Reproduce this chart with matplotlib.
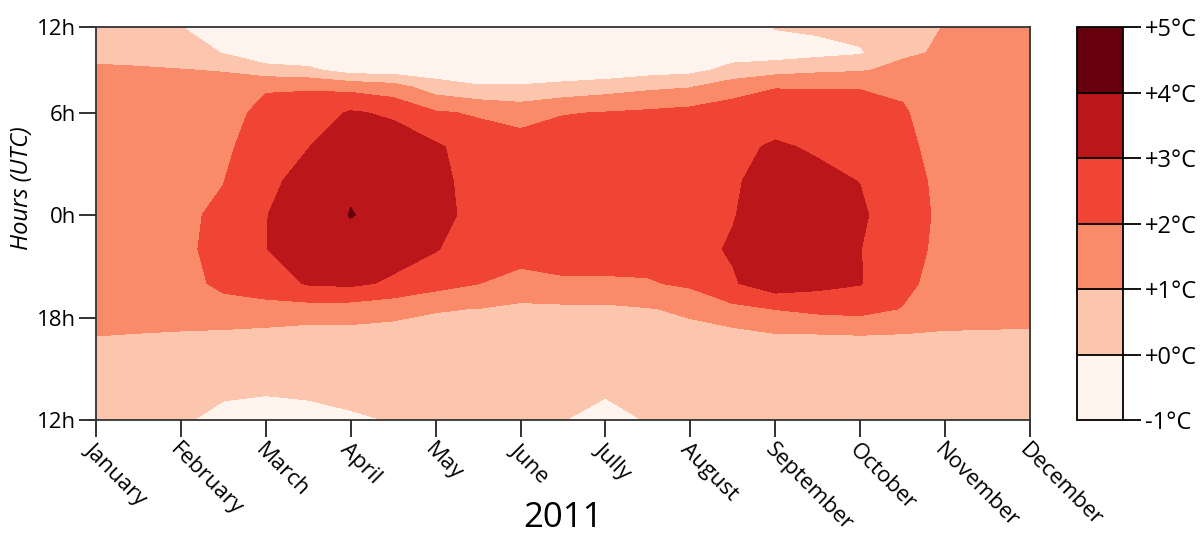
import numpy as np
import matplotlib.pyplot as plt

plt.rcParams['font.family'] = 'Open Sans'

# grid: half-month columns (Jan=0 ... Dec=11), hour rows measured up from the bottom 12h
month_pos = np.arange(0, 11.5, 0.5)
hour_pos = [0, 1.5, 3, 5, 6.5, 8, 10, 12, 14, 16, 18, 19.5, 20.5, 21.5, 23.0]

month_labels = ['January', 'February', 'March', 'April', 'May', 'June',
                'Jully', 'August', 'September', 'October', 'November', 'December']
hour_ticks = [0, 6, 12, 18, 23.0]
hour_labels = ['12h', '18h', '0h', '6h', '12h']

levels = [-1, 0, 1, 2, 3, 4, 5]
cbar_labels = ['-1°C', '+0°C', '+1°C', '+2°C', '+3°C', '+4°C', '+5°C']
band_colors = ['#fff3ed', '#fcc5ae', '#f98a6a', '#f04534', '#bb1619', '#67000d']

# temperature anomaly (°C), one profile per half-month column, bottom -> top
anomaly_cols = [
    [0.4, 0.58, 0.76, 1.01, 1.16, 1.33, 1.54, 1.75, 1.68, 1.55, 1.35, 1.2, 1.05, 0.9, 0.6],
    [0.4, 0.57, 0.75, 0.99, 1.17, 1.35, 1.58, 1.8, 1.75, 1.6, 1.38, 1.18, 1.04, 0.85, 0.5],
    [0.15, 0.45, 0.68, 0.95, 1.3, 1.6, 1.8, 1.85, 1.85, 1.72, 1.45, 1.2, 1.02, 0.6, 0.02],
    [-0.35, 0.12, 0.45, 0.85, 1.6, 2.25, 2.3, 2.15, 1.98, 1.8, 1.6, 1.3, 0.95, -0.05, -0.5],
    [-0.4, 0.02, 0.4, 0.7, 1.75, 2.4, 2.98, 2.97, 2.8, 2.55, 2.3, 1.9, 0.4, -0.74, -0.9],
    [-0.35, 0.1, 0.45, 0.6, 1.6, 3.1, 3.4, 3.55, 3.3, 2.98, 2.5, 1.9, 0.2, -0.8, -0.9],
    [-0.15, 0.25, 0.5, 0.65, 1.55, 3.2, 3.7, 4.03, 3.9, 3.5, 3.1, 1.7, -0.5, -0.8, -0.85],
    [0.05, 0.3, 0.55, 0.6, 1.35, 2.85, 3.4, 3.75, 3.7, 3.5, 2.85, 1.4, -0.5, -0.8, -0.85],
    [0.1, 0.35, 0.55, 0.7, 1.05, 2.4, 3.05, 3.3, 3.25, 3.15, 2.1, 0.5, -0.6, -0.85, -0.85],
    [0.2, 0.4, 0.55, 0.7, 0.98, 2.02, 2.5, 2.7, 2.65, 2.5, 1.9, 0.1, -0.7, -0.85, -0.85],
    [0.2, 0.4, 0.55, 0.7, 0.8, 1.6, 2.5, 2.6, 2.55, 2.45, 1.6, 0.1, -0.7, -0.85, -0.85],
    [0.02, 0.3, 0.5, 0.65, 0.8, 1.85, 2.5, 2.7, 2.65, 2.5, 1.95, 0.3, -0.7, -0.85, -0.85],
    [-0.3, 0.05, 0.4, 0.6, 0.8, 1.85, 2.5, 2.7, 2.65, 2.5, 2.03, 0.55, -0.7, -0.85, -0.85],
    [0.05, 0.3, 0.5, 0.7, 0.95, 1.9, 2.5, 2.7, 2.7, 2.55, 2.15, 0.8, -0.45, -0.85, -0.85],
    [0.15, 0.35, 0.55, 0.75, 1.15, 2.2, 2.7, 2.85, 2.8, 2.65, 2.3, 0.95, -0.3, -0.8, -0.85],
    [0.3, 0.45, 0.6, 0.7, 1.75, 2.9, 3.1, 2.95, 2.9, 2.8, 2.5, 1.55, 0.3, -0.45, -0.8],
    [0.25, 0.45, 0.65, 0.95, 2.02, 3.6, 3.6, 3.55, 3.35, 3.1, 2.6, 1.95, 0.6, -0.5, 0.05],
    [0.25, 0.45, 0.65, 0.97, 2.25, 3.3, 3.45, 3.4, 3.2, 2.9, 2.45, 1.95, 0.8, -0.3, 0.15],
    [0.3, 0.5, 0.7, 1.01, 2.35, 3.05, 3.02, 3.15, 2.98, 2.7, 2.4, 1.95, 0.9, -0.1, 0.3],
    [0.35, 0.5, 0.7, 0.97, 1.95, 2.3, 2.35, 2.4, 2.35, 2.25, 2.1, 1.85, 1.25, 0.85, 0.5],
    [0.35, 0.5, 0.68, 0.95, 1.25, 1.5, 1.75, 1.8, 1.75, 1.6, 1.45, 1.3, 1.2, 1.12, 1.05],
    [0.4, 0.55, 0.7, 0.95, 1.2, 1.4, 1.6, 1.7, 1.65, 1.55, 1.45, 1.35, 1.3, 1.25, 1.2],
    [0.4, 0.55, 0.7, 0.93, 1.2, 1.4, 1.6, 1.7, 1.65, 1.55, 1.45, 1.35, 1.3, 1.25, 1.2],
]
anomaly = np.array(anomaly_cols).T

fig = plt.figure(figsize=(12.03, 5.33), dpi=100)
ax = fig.add_axes([0.0798, 0.212, 0.7764, 0.737])
cax = fig.add_axes([0.8953, 0.212, 0.0382, 0.737])

cs = ax.contourf(month_pos, hour_pos, anomaly, levels=levels, colors=band_colors)
ax.set_xlim(0, 11)
ax.set_ylim(0, 23.0)

ax.set_xticks(range(12))
ax.set_xticklabels(month_labels, rotation=-45, ha='left', va='top', rotation_mode='anchor')
ax.set_yticks(hour_ticks)
ax.set_yticklabels(hour_labels)
ax.tick_params(length=12, width=1.3, color='#222222', labelsize=16, pad=2)
for s in ax.spines.values():
    s.set_linewidth(1.3)
    s.set_color('#333333')

fig.text(563 / 1203, 1 - 518 / 533, '2011', ha='center', va='center', fontsize=25)
fig.text(22 / 1203, 1 - 188 / 533, 'Hours (UTC)', ha='center', va='center',
         rotation=90, fontsize=17, style='italic')

cb = fig.colorbar(cs, cax=cax, drawedges=True)
cb.set_ticks(levels)
cb.set_ticklabels(cbar_labels)
cb.outline.set_linewidth(1.3)
cb.dividers.set_linewidth(1.3)
cax.tick_params(length=13, width=1.3, labelsize=17, pad=3)

plt.savefig('out.png', dpi=100)
